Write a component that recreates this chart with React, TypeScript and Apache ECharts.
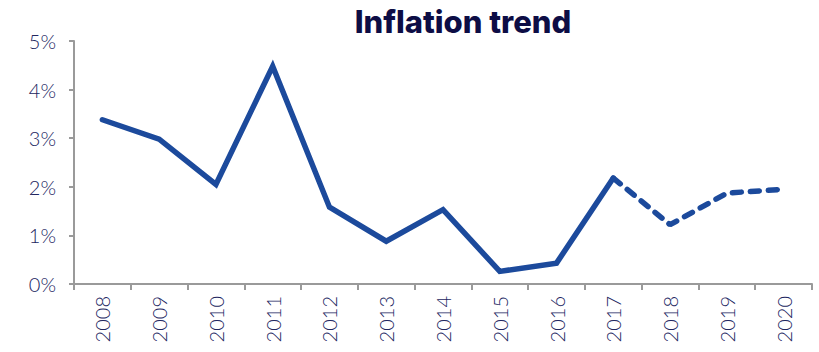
import React, { useEffect, useRef } from "react";
import * as echarts from "echarts";

const years = ["2008", "2009", "2010", "2011", "2012", "2013", "2014", "2015", "2016", "2017", "2018", "2019", "2020"];
const actual = [3.38, 2.98, 2.05, 4.48, 1.58, 0.88, 1.53, 0.26, 0.43, 2.18, null, null, null];
const forecast = [null, null, null, null, null, null, null, null, null, 2.18, 1.22, 1.87, 1.95];
const yTicks = [0, 1, 2, 3, 4, 5];

const LINE = "#1c4a9c";
const NAVY = "#0d0d45";
const LABEL = "#22265f";

export default function App() {
  const ref = useRef<HTMLDivElement>(null);
  useEffect(() => {
    if (!ref.current) return;
    const chart = echarts.init(ref.current, undefined, { renderer: "svg" });
    chart.setOption({
      animation: false,
      title: {
        text: "Inflation trend",
        left: 458,
        textAlign: "center",
        top: 1,
        textStyle: { fontFamily: "Inter", fontWeight: 800, fontSize: 31, color: NAVY },
      },
      grid: { left: 74, right: 7, top: 41, bottom: 68, containLabel: false },
      xAxis: {
        type: "category",
        data: years,
        boundaryGap: true,
        axisLine: { lineStyle: { color: "#9a9a9a", width: 2 } },
        axisTick: { show: true, length: 6, lineStyle: { color: "#9a9a9a", width: 2 } },
        axisLabel: {
          rotate: 90,
          margin: 12,
          fontFamily: "Lato",
          fontWeight: 300,
          fontSize: 20,
          color: LABEL,
        },
      },
      yAxis: {
        type: "value",
        min: yTicks[0],
        max: yTicks[yTicks.length - 1],
        interval: 1,
        splitLine: { show: false },
        axisLine: { show: true, lineStyle: { color: "#9a9a9a", width: 2 } },
        axisTick: { show: true, length: 5, lineStyle: { color: "#9a9a9a", width: 2 } },
        axisLabel: {
          formatter: (v: number) => `${v}%`,
          margin: 18,
          fontFamily: "Lato",
          fontWeight: 300,
          fontSize: 20,
          color: LABEL,
        },
      },
      series: [
        {
          type: "line",
          data: actual,
          symbol: "none",
          connectNulls: false,
          lineStyle: { color: LINE, width: 5.5, cap: "round", join: "miter" },
        },
        {
          type: "line",
          data: forecast,
          symbol: "none",
          connectNulls: false,
          lineStyle: { color: LINE, width: 5.5, type: [9, 9], cap: "round" },
        },
      ],
    });
    return () => chart.dispose();
  }, []);
  return <div ref={ref} style={{ width: 819, height: 352, position: "absolute", left: 0, top: 0 }} />;
}
